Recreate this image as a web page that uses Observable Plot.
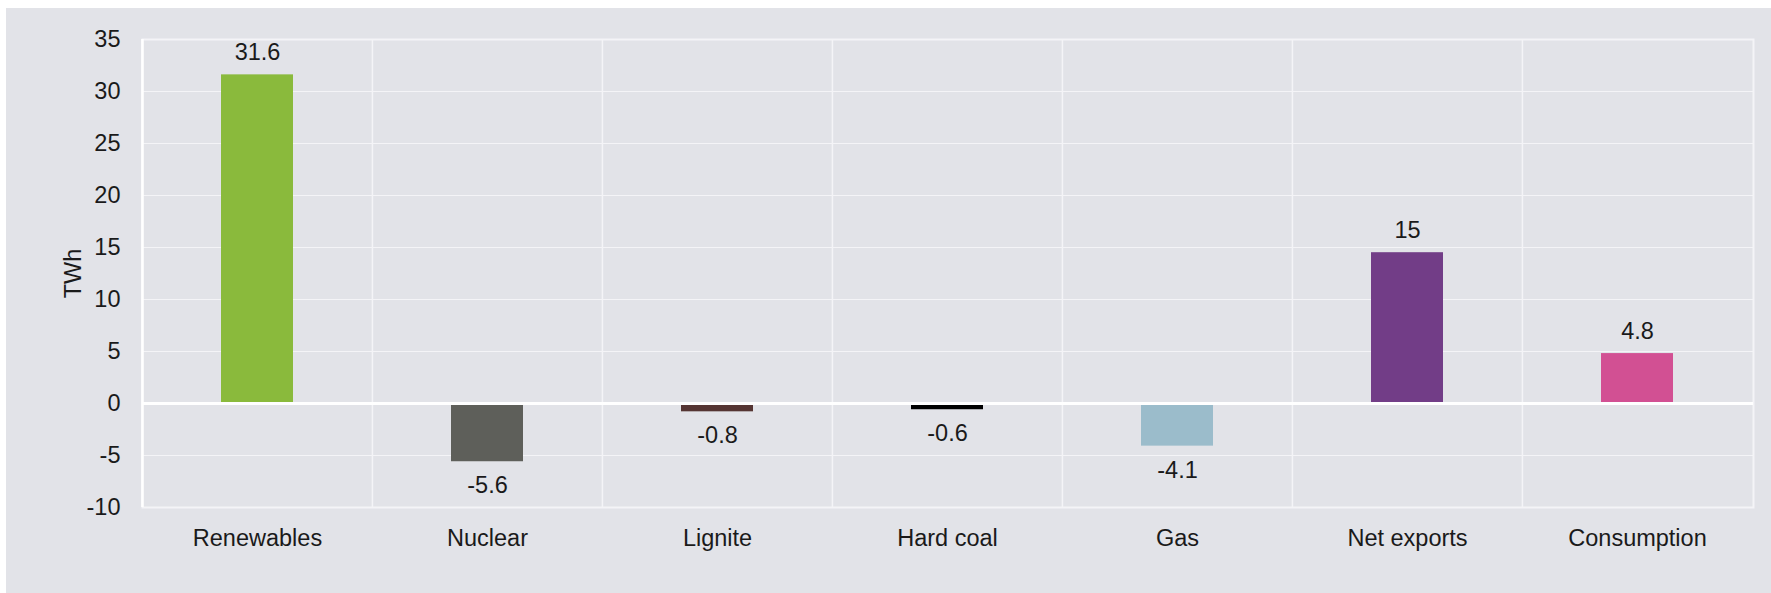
<!DOCTYPE html>
<html>
<head>
<meta charset="utf-8">
<script src="https://cdn.jsdelivr.net/npm/d3@7"></script>
<script src="https://cdn.jsdelivr.net/npm/@observablehq/plot@0.6"></script>
<style>
  html, body { margin: 0; padding: 0; background: #ffffff; }
  #panel { position: absolute; left: 6px; top: 8px; width: 1765px; height: 585px; background: #e2e3e8; }
  svg { font-family: "Liberation Sans", Arial, sans-serif; }
</style>
</head>
<body>
<div id="panel"></div>
<script>
const categories = ["Renewables", "Nuclear", "Lignite", "Hard coal", "Gas", "Net exports", "Consumption"];
const values = [31.6, -5.6, -0.8, -0.6, -4.1, 14.5, 4.8];
const valueLabels = ["31.6", "-5.6", "-0.8", "-0.6", "-4.1", "15", "4.8"];
const colors = ["#8aba3c", "#5e5f5a", "#553533", "#000000", "#9bbccb", "#723d87", "#d25093"];
const yTicks = [-10, -5, 0, 5, 10, 15, 20, 25, 30, 35];

const data = categories.map((c, i) => ({category: c, value: values[i], label: valueLabels[i]}));

const W = 1765, H = 585;
const mL = 136, mR = 18, mT = 31, mB = 86;
const step = (W - mL - mR) / categories.length;
const grid = "#f4f4f7";
const fs = 23.5;

const chart = Plot.plot({
  width: W,
  height: H,
  marginLeft: mL,
  marginRight: mR,
  marginTop: mT,
  marginBottom: mB,
  style: {background: "transparent", fontSize: fs + "px", color: "#1a1a1a", fontFamily: "'Liberation Sans', Arial, sans-serif"},
  x: {domain: categories, paddingInner: 0.686, paddingOuter: 0.343, label: null},
  y: {domain: [-10, 35], ticks: yTicks, label: null},
  color: {domain: categories, range: colors},
  marks: [
    Plot.gridY(yTicks, {stroke: grid, strokeOpacity: 1, strokeWidth: 1.2}),
    Plot.ruleX(categories.slice(1), {x: d => d, dx: -step / 2, stroke: grid, strokeOpacity: 1, strokeWidth: 1.5}),
    Plot.frame({stroke: grid, strokeWidth: 2}),
    Plot.ruleX([categories[0]], {x: d => d, dx: -step / 2, y1: -10, y2: 35, stroke: "#ffffff", strokeWidth: 2.5}),
    Plot.barY(data, {x: "category", y: "value", fill: "category"}),
    Plot.ruleY([0], {stroke: "#ffffff", strokeWidth: 3}),
    Plot.text(data.filter(d => d.value >= 0), {x: "category", y: "value", text: "label", dy: -22, fill: "#1a1a1a", fontSize: fs}),
    Plot.text(data.filter(d => d.value < 0), {x: "category", y: "value", text: "label", dy: 24, fill: "#1a1a1a", fontSize: fs}),
    Plot.axisX({tickSize: 0, tickPadding: 22, label: null, fontSize: fs}),
    Plot.axisY({ticks: yTicks, tickSize: 0, tickPadding: 22, tickFormat: d => String(d), label: "TWh", labelAnchor: "center", labelArrow: "none", labelOffset: 78, fontSize: fs})
  ]
});
document.getElementById("panel").appendChild(chart);
</script>
</body>
</html>
